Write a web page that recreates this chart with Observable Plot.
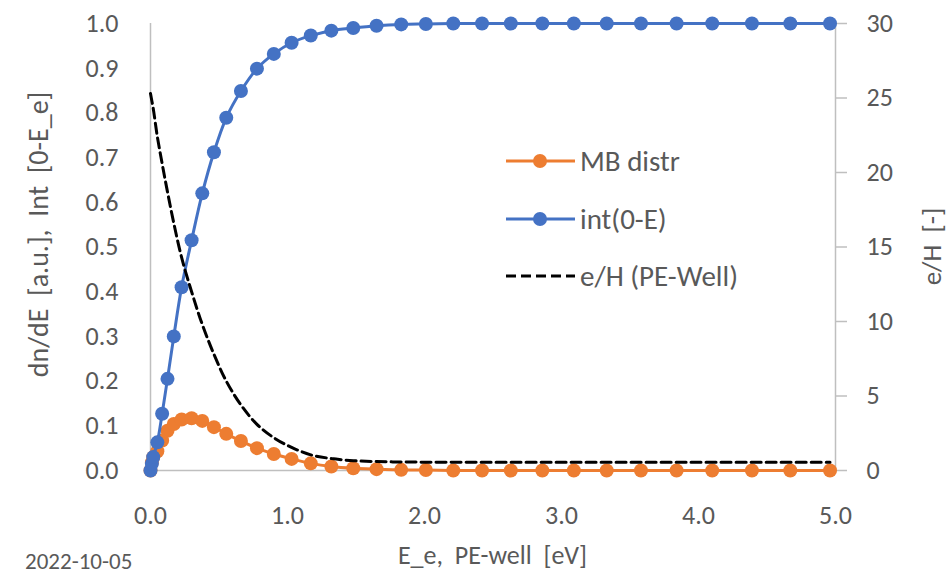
<!DOCTYPE html>
<html>
<head>
<meta charset="utf-8">
<script src="https://cdn.jsdelivr.net/npm/d3@7"></script>
<script src="https://cdn.jsdelivr.net/npm/@observablehq/plot@0.6"></script>
<style>
  html, body { margin: 0; padding: 0; background: #fff; }
  #chart { width: 949px; height: 577px; overflow: hidden; }
</style>
</head>
<body>
<div id="chart"></div>
<script>
// ---- data ----
const energy = [0, 0.01, 0.02, 0.05, 0.085, 0.124, 0.17, 0.227, 0.30, 0.378, 0.463, 0.553, 0.66, 0.777, 0.90, 1.03, 1.17, 1.32, 1.48, 1.65, 1.83, 2.01, 2.21, 2.42, 2.63, 2.86, 3.09, 3.33, 3.58, 3.84, 4.10, 4.39, 4.67, 4.96];
const mbDistr = [0, 0.018, 0.03, 0.043, 0.067, 0.089, 0.104, 0.114, 0.117, 0.111, 0.097, 0.082, 0.066, 0.050, 0.037, 0.026, 0.016, 0.009, 0.005, 0.003, 0.0015, 0.001, 0, 0, 0, 0, 0, 0, 0, 0, 0, 0, 0, 0];
const intE = [0, 0.015, 0.03, 0.063, 0.127, 0.205, 0.30, 0.41, 0.515, 0.62, 0.712, 0.789, 0.849, 0.899, 0.932, 0.957, 0.973, 0.984, 0.99, 0.995, 0.998, 0.999, 1, 1, 1, 1, 1, 1, 1, 1, 1, 1, 1, 1];
const eHwell = [25.3, 24.8, 24.3, 22.4, 20.6, 18.7, 16.6, 14.3, 12.0, 9.8, 7.8, 6.0, 4.4, 3.1, 2.2, 1.55, 1.05, 0.8, 0.66, 0.6, 0.57, 0.56, 0.55, 0.55, 0.55, 0.55, 0.55, 0.55, 0.55, 0.55, 0.55, 0.55, 0.55, 0.55];

const xTicks = [0, 1, 2, 3, 4, 5];
const yTicks = [0, 0.1, 0.2, 0.3, 0.4, 0.5, 0.6, 0.7, 0.8, 0.9, 1.0];
const y2Ticks = [0, 5, 10, 15, 20, 25, 30];
const y2Max = 30;

const seriesNames = ["MB distr", "int(0-E)", "e/H (PE-Well)"];
const colors = { mb: "#ED7D31", int: "#4472C4", eh: "#000000" };
const xTitle = "E_e,  PE-well  [eV]";
const yTitle = "dn/dE  [a.u.],  Int  [0-E_e]";
const y2Title = "e/H  [-]";
const dateText = "2022-10-05";

const data = energy.map((e, i) => ({ E: e, mb: mbDistr[i], int: intE[i], eh: eHwell[i] }));

const font = "Carlito, Calibri, Lato, 'Open Sans', sans-serif";
const grey = "#595959";
const axisGrey = "#BFBFBF";

const W = 949, H = 577, mL = 150, mR = 114, mT = 23, mB = 107;

const chart = Plot.plot({
  width: W, height: H,
  marginLeft: mL, marginRight: mR, marginTop: mT, marginBottom: mB,
  style: { fontFamily: font, fontSize: "26px", color: grey, background: "white", overflow: "visible" },
  x: { domain: [0, 5] },
  y: { domain: [0, 1] },
  marks: [
    Plot.ruleY([0], { stroke: axisGrey, strokeWidth: 1.5 }),
    Plot.ruleX([0], { stroke: axisGrey, strokeWidth: 1.5 }),
    Plot.ruleX([5], { stroke: axisGrey, strokeWidth: 1.5 }),
    Plot.axisX(xTicks, { tickFormat: d3.format(".1f"), tickSize: 0, tickPadding: 35, label: null, fill: grey }),
    Plot.axisY(yTicks, { tickFormat: d3.format(".1f"), tickSize: 0, tickPadding: 32, label: null, fill: grey }),
    Plot.axisY(y2Ticks.map(t => t / y2Max), { anchor: "right", tickFormat: d => Math.round(d * y2Max), tickSize: 11, tickPadding: 20, stroke: axisGrey, strokeWidth: 1.5, label: null, fill: grey }),
    Plot.line(data, { x: "E", y: "mb", stroke: colors.mb, strokeWidth: 3, curve: "catmull-rom" }),
    Plot.dot(data, { x: "E", y: "mb", fill: colors.mb, r: 7 }),
    Plot.line(data, { x: "E", y: "int", stroke: colors.int, strokeWidth: 3, curve: "catmull-rom" }),
    Plot.dot(data, { x: "E", y: "int", fill: colors.int, r: 7 }),
    Plot.line(data, { x: "E", y: d => d.eh / y2Max, stroke: colors.eh, strokeWidth: 3, strokeDasharray: "10,5", curve: "catmull-rom" })
  ]
});

const svg = d3.select(chart);
svg.attr("overflow", "hidden");
const midY = mT + (H - mT - mB) / 2;
const midX = mL + (W - mL - mR) / 2;

svg.append("text").attr("x", midX).attr("y", 564).attr("text-anchor", "middle")
  .attr("font-family", font).attr("font-size", 26).attr("fill", grey).text(xTitle);
svg.append("text").attr("transform", `translate(48,${midY - 12}) rotate(-90)`).attr("text-anchor", "middle")
  .attr("font-family", font).attr("font-size", 28).attr("fill", grey).text(yTitle);
svg.append("text").attr("transform", `translate(941,${midY}) rotate(-90)`).attr("text-anchor", "middle")
  .attr("font-family", font).attr("font-size", 27).attr("fill", grey).text(y2Title);
svg.append("text").attr("x", 25).attr("y", 569).attr("text-anchor", "start")
  .attr("font-family", font).attr("font-size", 23).attr("fill", grey).text(dateText);

// legend
const legend = svg.append("g").attr("font-family", font).attr("font-size", 29).attr("fill", grey).attr("text-anchor", "start");
const legY = [161, 219, 276];
const legKeys = ["mb", "int", "eh"];
legKeys.forEach((k, i) => {
  const g = legend.append("g").attr("transform", `translate(0,${legY[i]})`);
  g.append("line").attr("x1", 506).attr("x2", 575).attr("y1", 0).attr("y2", 0)
    .attr("stroke", colors[k]).attr("stroke-width", 3)
    .attr("stroke-dasharray", k === "eh" ? "10,5" : null);
  if (k !== "eh") g.append("circle").attr("cx", 540).attr("cy", 0).attr("r", 7).attr("fill", colors[k]);
  g.append("text").attr("x", 580).attr("y", 0).attr("dy", "0.35em").attr("text-anchor", "start").text(seriesNames[i]);
});

document.getElementById("chart").appendChild(chart);
</script>
</body>
</html>
